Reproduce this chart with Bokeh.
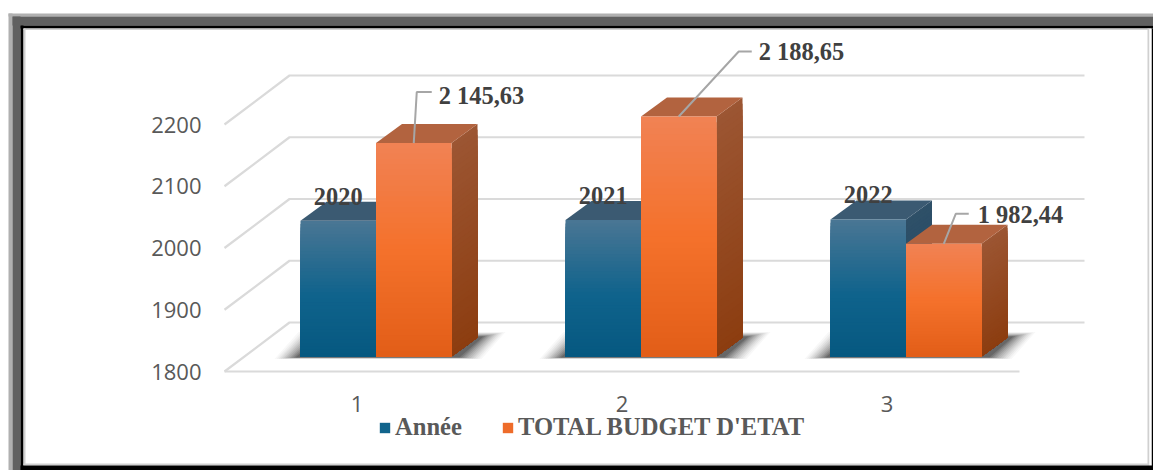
from bokeh.plotting import figure
from bokeh.models import (Range1d, FixedTicker, BoxAnnotation, Legend, LegendItem)
from bokeh.core.properties import value
from bokeh.embed import file_html
from bokeh.resources import INLINE

categories = [1, 2, 3]
years = [2020, 2021, 2022]
budget = [2145.63, 2188.65, 1982.44]
year_labels = ["2020", "2021", "2022"]
budget_labels = ["2 145,63", "2 188,65", "1 982,44"]
y_ticks = [1800, 1900, 2000, 2100, 2200]
series_names = ["Année", "TOTAL BUDGET D'ETAT"]

W, H = 1153, 470
FRAME_L = 224
PX_X, PX_Y = 265.0, 0.6175
Y0_PX = 371
GRID_D = (65, 49)
BAR_D = (26, 19)
BAR_W = 75.5
BAR_L = -56.5
BAR_UP = 15

def X(c, off=0.0):
    return c + off / PX_X
def Y(v, off=0.0):
    return v + off / PX_Y

x_floor = 0.5
x0 = x_floor - FRAME_L / PX_X
x1 = x0 + W / PX_X
y1 = 1800 + Y0_PX / PX_Y
y0 = 1800 - (H - Y0_PX) / PX_Y

p = figure(width=W, height=H, output_backend="svg", toolbar_location=None,
           x_range=Range1d(x0, x1), y_range=Range1d(y0, y1),
           min_border_left=0, min_border_right=0, min_border_top=0, min_border_bottom=0,
           outline_line_color=None, background_fill_color="white", border_fill_color="white")
p.grid.visible = False

ax = p.yaxis[0]
ax.ticker = FixedTicker(ticks=y_ticks)
ax.fixed_location = x_floor
ax.axis_line_color = None
ax.major_tick_line_color = None
ax.minor_tick_line_color = None
ax.major_label_standoff = 21
ax.major_label_text_font = "Open Sans"
ax.major_label_text_font_size = "22px"
ax.major_label_text_color = "#595959"
ax.major_label_standoff = 17

bx = p.xaxis[0]
bx.ticker = FixedTicker(ticks=categories)
bx.fixed_location = 1800
bx.axis_line_color = None
bx.major_tick_line_color = None
bx.minor_tick_line_color = None
bx.major_label_standoff = 18
bx.major_label_text_font = "Open Sans"
bx.major_label_text_font_size = "22px"
bx.major_label_text_color = "#595959"

# 3-D walls: oblique + back line per tick, front floor line
GRID = "#DADADA"
xa, ya = [], []
for t in y_ticks:
    xa.append([x_floor, X(x_floor, GRID_D[0]), X(3.5, GRID_D[0])])
    ya.append([t, Y(t, GRID_D[1]), Y(t, GRID_D[1])])
xa.append([x_floor, 3.5]); ya.append([1800, 1800])
p.multi_line(xa, ya, line_color=GRID, line_width=2.2)

def lerp(stops, f):
    for (f0, c0), (f1, c1) in zip(stops, stops[1:]):
        if f <= f1:
            t = (f - f0) / (f1 - f0)
            return "#%02x%02x%02x" % tuple(round(a + (b - a) * t) for a, b in zip(c0, c1))
    return "#%02x%02x%02x" % stops[-1][1]

BLUE_F = [(0, (0x4a, 0x76, 0x94)), (0.55, (0x0f, 0x63, 0x8c)), (1, (0x06, 0x58, 0x80))]
BLUE_S = [(0, (0x2f, 0x50, 0x68)), (1, (0x1c, 0x48, 0x68))]
BLUE_T = "#3b5a72"
ORNG_F = [(0, (0xf1, 0x82, 0x54)), (0.5, (0xf4, 0x71, 0x2b)), (1, (0xe2, 0x5e, 0x18))]
ORNG_S = [(0, (0x9c, 0x56, 0x33)), (1, (0x8c, 0x3d, 0x10))]
ORNG_T = "#b2633f"

def draw_bar(c, v, offs, front, side, top):
    # painter's gradient: each strip runs from its top down to the bar's base
    l, r = offs, offs + BAR_W
    dx, dy = BAR_D
    h = (v - 1800) * PX_Y
    n = 40
    fx, fy, fc, sx, sy, sc = [], [], [], [], [], []
    base = Y(1800, BAR_UP)
    for i in range(n):
        pt = h * (1 - i / n)
        yt = Y(1800, BAR_UP + pt)
        fx.append([X(c, l), X(c, r), X(c, r), X(c, l)])
        fy.append([yt, yt, base, base])
        fc.append(lerp(front, (i + .5) / n))
        sx.append([X(c, r), X(c, r + dx), X(c, r + dx), X(c, r)])
        sy.append([yt, Y(1800, BAR_UP + pt + dy), Y(1800, BAR_UP + dy), base])
        sc.append(lerp(side, (i + .5) / n))
    p.patches(sx, sy, fill_color=sc, line_color=None)
    p.patch([X(c, l), X(c, l + dx), X(c, r + dx), X(c, r)],
            [Y(1800, BAR_UP + h), Y(1800, BAR_UP + h + dy), Y(1800, BAR_UP + h + dy), Y(1800, BAR_UP + h)],
            fill_color=top, line_color=None)
    p.patches(fx, fy, fill_color=fc, line_color=None)

# soft floor shadows
for c in categories:
    for k, a in zip(range(10, -1, -1), [.03, .04, .05, .06, .07, .08, .09, .11, .13, .16, .2]):
        l = BAR_L - 20 + (10 - k) * 1.5 - k * .6
        r = BAR_L + 2 * BAR_W + 26 + 22 - (10 - k) * 1.6 + k * .6
        up = 22 - (10 - k) * .2 + k * .25
        p.patch([X(c, l), X(c, r - 24), X(c, r), X(c, l + 24)],
                [Y(1800, BAR_UP - 1 - k * .15), Y(1800, BAR_UP - 1 - k * .15), Y(1800, BAR_UP + up), Y(1800, BAR_UP + up)],
                fill_color="#1e1e1e", fill_alpha=a, line_color=None)

for c, v1, v2 in zip(categories, years, budget):
    draw_bar(c, v1, BAR_L, BLUE_F, BLUE_S, BLUE_T)
    draw_bar(c, v2, BAR_L + BAR_W, ORNG_F, ORNG_S, ORNG_T)

# leader lines and value labels
ELBOW = [(3, 51), (60, 65), (12, 30)]
RUN = [15, 13, 13]
TEXT_GAP = [7, 7, 9]
TEXT_UP = [-3, 0, -1]
LX, LY, TX, TY = [], [], [], []
for c, v, (ex, ey), run, gap, tu in zip(categories, budget, ELBOW, RUN, TEXT_GAP, TEXT_UP):
    ax0 = BAR_L + BAR_W * 1.5
    up = BAR_UP + (v - 1800) * PX_Y
    LX.append([X(c, ax0), X(c, ax0 + ex), X(c, ax0 + ex + run)])
    LY.append([Y(1800, up), Y(1800, up + ey), Y(1800, up + ey)])
    TX.append(X(c, ax0 + ex + run + gap))
    TY.append(Y(1800, up + ey + tu))
p.multi_line(LX, LY, line_color="#A6A6A6", line_width=2)
p.text(TX, TY, text=budget_labels, text_font=value("Liberation Serif"), text_font_style="bold",
       text_font_size="24.4px", text_color="#404040", text_align="left", text_baseline="middle")
p.text([X(c, BAR_L + BAR_W / 2) for c in categories],
       [Y(v, BAR_UP + 24.5) for v in years], text=year_labels,
       text_font=value("Liberation Serif"), text_font_style="bold",
       text_font_size="24.4px", text_color="#404040", text_align="center", text_baseline="middle")

# legend
r1 = p.rect([x0 - 5], [y0 - 50], 1, 1, fill_color="#11648c", line_color=None)
r2 = p.rect([x0 - 5], [y0 - 50], 1, 1, fill_color="#ee6c2a", line_color=None)
leg = Legend(items=[LegendItem(label=series_names[0], renderers=[r1]),
                    LegendItem(label=series_names[1], renderers=[r2])],
             orientation="horizontal", location=(378, 470 - 441),
             glyph_width=13, glyph_height=13, label_standoff=4, spacing=39,
             padding=0, margin=0, border_line_color=None, background_fill_alpha=0,
             label_text_font="Liberation Serif", label_text_font_style="bold",
             label_text_font_size="24.6px", label_text_color="#595959")
p.add_layout(leg, "center")

# page frame
def edge(l, t, r, b, color):
    p.add_layout(BoxAnnotation(left=l, right=r, top=t, bottom=b,
                               left_units="canvas", right_units="canvas", top_units="canvas", bottom_units="canvas",
                               fill_color=color, fill_alpha=1, line_color=None, level="overlay"))
edge(8, 13, 1153, 16, "#B0B0B0")
edge(8, 13, 12, 470, "#B0B0B0")
edge(12, 16, 1153, 25, "#606060")
edge(12, 16, 20, 470, "#606060")
edge(20, 25, 1153, 28, "#000000")
edge(20, 25, 23, 470, "#000000")
edge(23, 28, 1149, 29.5, "#D0D0D0")
edge(23, 28, 25, 465, "#D0D0D0")
edge(1147, 28, 1149, 465, "#D0D0D0")
edge(23, 463, 1149, 465, "#D0D0D0")
edge(1151, 28, 1153, 470, "#000000")
edge(1149, 28, 1151, 470, "#FFFFFF")
edge(20, 465, 1153, 470, "#000000")

open("out.html", "w").write(file_html(p, INLINE))
